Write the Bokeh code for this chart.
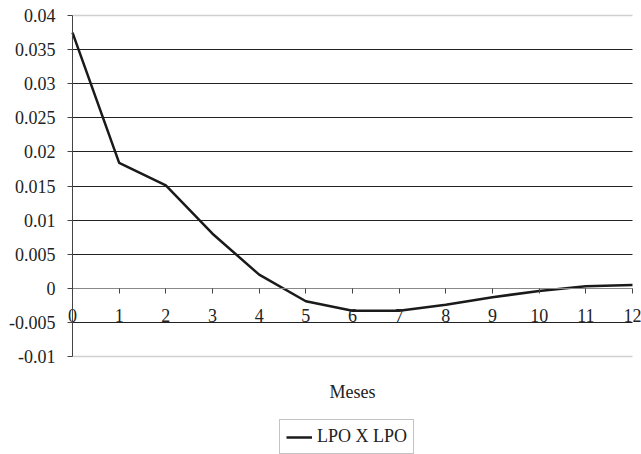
from bokeh.plotting import figure
from bokeh.models import (FixedTicker, Grid, Legend, LegendItem, Label, Range1d)
from bokeh.embed import file_html
from bokeh.resources import INLINE

meses = list(range(13))
lpo_x_lpo = [0.0375, 0.0184, 0.0151, 0.0080, 0.0020, -0.0019, -0.0033,
             -0.0033, -0.0024, -0.0013, -0.0004, 0.0003, 0.0005]
y_ticks = [-0.01, -0.005, 0.0, 0.005, 0.01, 0.015, 0.02, 0.025, 0.03, 0.035, 0.04]
y_tick_labels = ["-0.01", "-0.005", "0", "0.005", "0.01", "0.015", "0.02",
                 "0.025", "0.03", "0.035", "0.04"]
x_label = "Meses"
series_name = "LPO X LPO"

FONT = "Liberation Serif"
W, H = 641, 454

# The frame covers the whole page; both axes are pinned at 0 so their labels are not clipped.
y_lo, y_hi = y_ticks[0], y_ticks[-1]
x_lo, x_hi = meses[0], meses[-1]
py = 341 / (y_hi - y_lo)          # px per y unit
px = 560 / (x_hi - x_lo)          # px per x unit
y_range = Range1d(y_lo - 98 / py, y_hi + 15 / py)
x_range = Range1d(x_lo - 72 / px, x_hi + 9 / px)

p = figure(width=W, height=H, frame_width=W, frame_height=H,
           output_backend="svg", toolbar_location=None,
           x_range=x_range, y_range=y_range,
           min_border_left=0, min_border_right=0, min_border_top=0,
           min_border_bottom=0)
p.outline_line_color = None
p.background_fill_color = "white"
p.border_fill_color = "white"

# y axis
p.yaxis.fixed_location = x_lo
p.yaxis.ticker = FixedTicker(ticks=y_ticks)
p.yaxis.bounds = (y_lo, y_hi)
p.yaxis.major_label_overrides = {t: l for t, l in zip(y_ticks, y_tick_labels)}
p.yaxis.major_label_text_font = FONT
p.yaxis.major_label_text_font_size = "18px"
p.yaxis.major_label_text_color = "#222222"
p.yaxis.major_tick_out = 5
p.yaxis.major_tick_in = 0
p.yaxis.minor_tick_line_color = None
p.yaxis.axis_line_color = "#444444"
p.yaxis.major_tick_line_color = "#444444"
p.yaxis.major_label_standoff = 12

# x axis at zero
p.xaxis.fixed_location = 0
p.xaxis.ticker = FixedTicker(ticks=meses)
p.xaxis.bounds = (x_lo, x_hi)
p.xaxis.major_label_text_font = FONT
p.xaxis.major_label_text_font_size = "18px"
p.xaxis.major_label_text_color = "#222222"
p.xaxis.major_tick_out = 5
p.xaxis.major_tick_in = 0
p.xaxis.minor_tick_line_color = None
p.xaxis.axis_line_color = "#888888"
p.xaxis.major_tick_line_color = "#444444"
p.xaxis.major_label_standoff = 16

# grids
p.xgrid.grid_line_color = None
p.ygrid.ticker = FixedTicker(ticks=[t for t in y_ticks if t not in (y_lo, y_hi, 0.0)])
p.ygrid.cross_bounds = (x_lo, x_hi)
p.ygrid.grid_line_color = "#222222"
p.ygrid.grid_line_width = 1

p.add_layout(Grid(dimension=1, ticker=FixedTicker(ticks=[y_lo, y_hi]),
                  cross_bounds=(x_lo, x_hi), grid_line_color="#d0d0d0",
                  grid_line_width=1.5))

r = p.line(meses, lpo_x_lpo, line_color="#1a1a1a", line_width=2.5)

p.add_layout(Label(x=(x_lo + x_hi) / 2, y=y_lo - 35 / py,
                   text=x_label, text_align="center", text_baseline="alphabetic",
                   text_font=FONT, text_font_size="18px", text_color="#222222"))

legend = Legend(items=[LegendItem(label=series_name, renderers=[r])],
                location=(279, 0), orientation="horizontal",
                label_text_font=FONT, label_text_font_size="18px",
                label_text_color="#222222",
                border_line_color="#888888", border_line_width=1,
                glyph_width=26, padding=6, margin=0, spacing=0,
                label_standoff=5, background_fill_alpha=1)
p.add_layout(legend)

open("out.html", "w").write(file_html(p, INLINE))
